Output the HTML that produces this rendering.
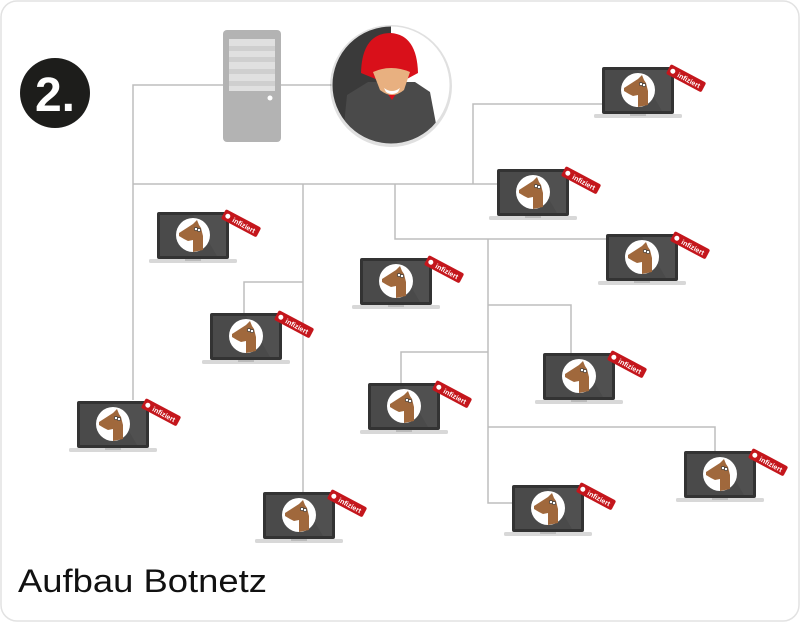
<!DOCTYPE html>
<html><head><meta charset="utf-8"><style>
html,body{margin:0;padding:0;background:#fff;}
svg{display:block;}
</style></head><body>
<svg width="800" height="622" viewBox="0 0 800 622" xmlns="http://www.w3.org/2000/svg">
<defs>
<g id="lap">
  <rect x="0" y="0" width="72" height="47" rx="2" fill="#333"/>
  <rect x="3" y="3" width="66" height="41" fill="#4a4a4a"/>
  <polygon points="36,3 69,3 69,44 60,44" fill="#555" opacity="0.5"/>
  <rect x="-8" y="47" width="88" height="4" rx="1.5" fill="#d8d8d8"/>
  <rect x="28" y="47" width="16" height="2" fill="#bbb"/>
  <circle cx="36" cy="23" r="17" fill="#fff"/>
  <polygon points="22,21 36,12 40,8 42,13 44,16 46,24 46,38 36,40 36,28 31,29 27,27 22,24" fill="#a0683c"/>
  <circle cx="39" cy="17" r="1.6" fill="#fff" stroke="#222" stroke-width="0.6"/>
  <circle cx="42" cy="18" r="1.6" fill="#fff" stroke="#222" stroke-width="0.6"/>
</g>
</defs>
<rect x="1" y="1" width="798" height="620" rx="16" fill="#fff" stroke="#e2e2e2" stroke-width="1.5"/>
<g fill="none" stroke="#bdbdbd" stroke-width="1.5">
  <path d="M133 400 V85 H335"/>
  <path d="M133 184 H497"/>
  <path d="M473 184 V104 H602"/>
  <path d="M303 184 V492"/>
  <path d="M303 282 H244 V313"/>
  <path d="M395 184 V239 H606"/>
  <path d="M488 239 V503 H512"/>
  <path d="M488 305 H571 V353"/>
  <path d="M488 352 H401 V383"/>
  <path d="M488 427 H715 V451"/>
</g>
<circle cx="55" cy="93" r="35" fill="#1d1d1b"/>
<text x="55" y="111" text-anchor="middle" font-family="Liberation Sans, sans-serif" font-weight="bold" font-size="48" fill="#fff">2.</text>
<!-- server -->
<rect x="223" y="30" width="58" height="112" rx="4" fill="#b3b3b3"/>
<rect x="229" y="39" width="46" height="52" fill="#e0e0e0"/>
<rect x="229" y="46" width="46" height="5" fill="#cfcfcf"/>
<rect x="229" y="57" width="46" height="5" fill="#cfcfcf"/>
<rect x="229" y="69" width="46" height="5" fill="#cfcfcf"/>
<rect x="229" y="81" width="46" height="5" fill="#cfcfcf"/>
<circle cx="270" cy="98" r="2.5" fill="#fff"/>
<!-- hacker -->
<circle cx="391" cy="86" r="61" fill="#000" opacity="0.12"/>
<clipPath id="hc"><circle cx="391" cy="85" r="59"/></clipPath>
<g clip-path="url(#hc)">
  <rect x="330" y="24" width="62" height="125" fill="#3a3a3a"/>
  <rect x="391" y="24" width="62" height="125" fill="#fff"/>
  <path d="M342 145 L347 95 L368 82 L415 82 L430 92 L440 145 Z" fill="#4a4a4a"/>
  <path d="M361 73 Q362 33 391 33 Q417 35 418 73 L405 80 L392 100 L378 80 Z" fill="#d9101a"/>
  <path d="M373 72 Q391 64 410 72 L404 90 Q392 100 380 90 Z" fill="#e8b080"/>
  <path d="M384 88 Q392 94 400 88 L398 92 Q392 96 386 92 Z" fill="#fff"/>
</g>
<circle cx="391" cy="85" r="59" fill="none" stroke="#e0e0e0" stroke-width="1"/>
<!-- laptops -->
<g font-family="Liberation Sans, sans-serif" font-size="7" fill="#fff" font-weight="bold">
<g transform="translate(602,67)"><use href="#lap"/><g transform="translate(69,-3) rotate(28)"><rect width="40" height="11" rx="2" fill="#c4161c"/><circle cx="5" cy="5.5" r="2.5" fill="#fff"/><text x="11" y="8.5">infiziert</text></g></g>
<g transform="translate(497,169)"><use href="#lap"/><g transform="translate(69,-3) rotate(28)"><rect width="40" height="11" rx="2" fill="#c4161c"/><circle cx="5" cy="5.5" r="2.5" fill="#fff"/><text x="11" y="8.5">infiziert</text></g></g>
<g transform="translate(157,212)"><use href="#lap"/><g transform="translate(69,-3) rotate(28)"><rect width="40" height="11" rx="2" fill="#c4161c"/><circle cx="5" cy="5.5" r="2.5" fill="#fff"/><text x="11" y="8.5">infiziert</text></g></g>
<g transform="translate(606,234)"><use href="#lap"/><g transform="translate(69,-3) rotate(28)"><rect width="40" height="11" rx="2" fill="#c4161c"/><circle cx="5" cy="5.5" r="2.5" fill="#fff"/><text x="11" y="8.5">infiziert</text></g></g>
<g transform="translate(360,258)"><use href="#lap"/><g transform="translate(69,-3) rotate(28)"><rect width="40" height="11" rx="2" fill="#c4161c"/><circle cx="5" cy="5.5" r="2.5" fill="#fff"/><text x="11" y="8.5">infiziert</text></g></g>
<g transform="translate(210,313)"><use href="#lap"/><g transform="translate(69,-3) rotate(28)"><rect width="40" height="11" rx="2" fill="#c4161c"/><circle cx="5" cy="5.5" r="2.5" fill="#fff"/><text x="11" y="8.5">infiziert</text></g></g>
<g transform="translate(543,353)"><use href="#lap"/><g transform="translate(69,-3) rotate(28)"><rect width="40" height="11" rx="2" fill="#c4161c"/><circle cx="5" cy="5.5" r="2.5" fill="#fff"/><text x="11" y="8.5">infiziert</text></g></g>
<g transform="translate(368,383)"><use href="#lap"/><g transform="translate(69,-3) rotate(28)"><rect width="40" height="11" rx="2" fill="#c4161c"/><circle cx="5" cy="5.5" r="2.5" fill="#fff"/><text x="11" y="8.5">infiziert</text></g></g>
<g transform="translate(77,401)"><use href="#lap"/><g transform="translate(69,-3) rotate(28)"><rect width="40" height="11" rx="2" fill="#c4161c"/><circle cx="5" cy="5.5" r="2.5" fill="#fff"/><text x="11" y="8.5">infiziert</text></g></g>
<g transform="translate(684,451)"><use href="#lap"/><g transform="translate(69,-3) rotate(28)"><rect width="40" height="11" rx="2" fill="#c4161c"/><circle cx="5" cy="5.5" r="2.5" fill="#fff"/><text x="11" y="8.5">infiziert</text></g></g>
<g transform="translate(263,492)"><use href="#lap"/><g transform="translate(69,-3) rotate(28)"><rect width="40" height="11" rx="2" fill="#c4161c"/><circle cx="5" cy="5.5" r="2.5" fill="#fff"/><text x="11" y="8.5">infiziert</text></g></g>
<g transform="translate(512,485)"><use href="#lap"/><g transform="translate(69,-3) rotate(28)"><rect width="40" height="11" rx="2" fill="#c4161c"/><circle cx="5" cy="5.5" r="2.5" fill="#fff"/><text x="11" y="8.5">infiziert</text></g></g>
</g>
<text x="18" y="592" font-family="Liberation Sans, sans-serif" font-size="32" fill="#111" textLength="249" lengthAdjust="spacingAndGlyphs">Aufbau Botnetz</text>
</svg>
</body></html>
